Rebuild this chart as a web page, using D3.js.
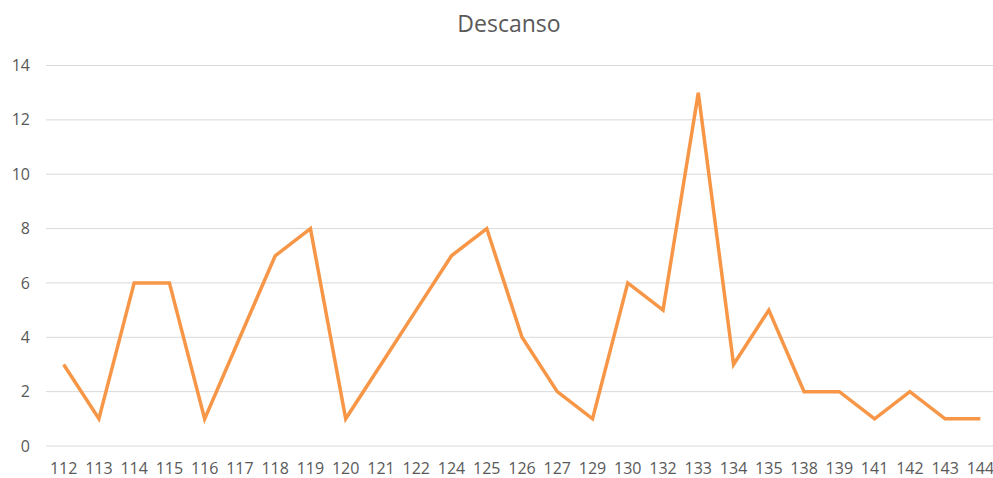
<!DOCTYPE html>
<html>
<head>
<meta charset="utf-8">
<script src="https://cdn.jsdelivr.net/npm/d3@7"></script>
<style>
  body { margin: 0; background: #fff; }
  svg { display: block; font-family: "Open Sans", "Liberation Sans", sans-serif; }
</style>
</head>
<body>
<svg id="chart" width="993" height="478"></svg>
<script>
const categories = ["112","113","114","115","116","117","118","119","120","121","122","124","125","126","127","129","130","132","133","134","135","138","139","141","142","143","144"];
const values = [3,1,6,6,1,4,7,8,1,3,5,7,8,4,2,1,6,5,13,3,5,2,2,1,2,1,1];
const yTicks = [0,2,4,6,8,10,12,14];
const title = "Descanso";

const svg = d3.select("#chart");

const x = d3.scaleBand().domain(categories).range([46, 998]);
const y = d3.scaleLinear().domain([0, 14]).range([446, 65.5]);

// grid
svg.append("g")
  .selectAll("line")
  .data(yTicks)
  .enter().append("line")
    .attr("x1", 46).attr("x2", 998)
    .attr("y1", d => y(d)).attr("y2", d => y(d))
    .attr("stroke", "#d9d9d9")
    .attr("stroke-width", 1);

// y labels
svg.append("g")
  .selectAll("text")
  .data(yTicks)
  .enter().append("text")
    .attr("x", 30)
    .attr("y", d => y(d))
    .attr("dy", "0.35em")
    .attr("text-anchor", "end")
    .attr("font-size", 16)
    .attr("fill", "#595959")
    .text(d => d);

// x labels
svg.append("g")
  .selectAll("text")
  .data(categories)
  .enter().append("text")
    .attr("x", d => x(d) + x.bandwidth() / 2)
    .attr("y", 468)
    .attr("dy", "0.35em")
    .attr("text-anchor", "middle")
    .attr("font-size", 16)
    .attr("fill", "#595959")
    .text(d => d);

const line = d3.line()
  .x((d, i) => x(categories[i]) + x.bandwidth() / 2)
  .y(d => y(d));

svg.append("path")
  .datum(values)
  .attr("fill", "none")
  .attr("stroke", "#f79646")
  .attr("stroke-width", 3.5)
  .attr("stroke-linejoin", "miter")
  .attr("d", line);

svg.append("text")
  .attr("x", 509)
  .attr("y", 24)
  .attr("dy", "0.35em")
  .attr("text-anchor", "middle")
  .attr("font-size", 23)
  .attr("fill", "#595959")
  .text(title);
</script>
</body>
</html>
